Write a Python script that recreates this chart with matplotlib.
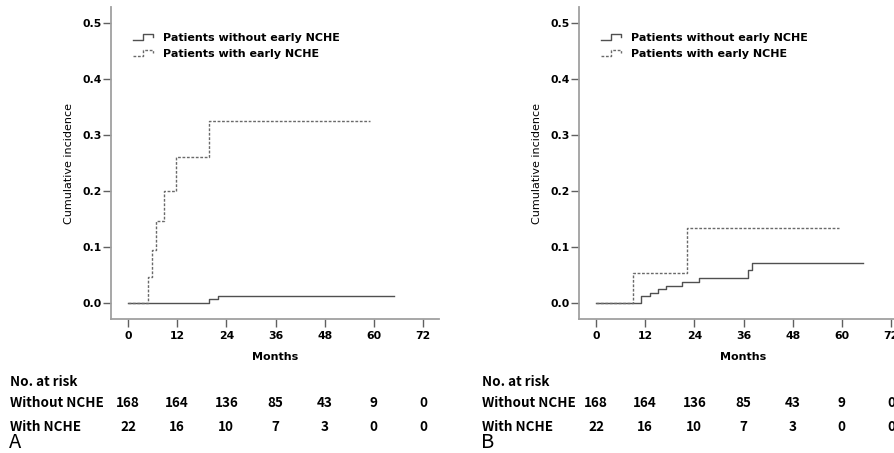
import matplotlib

matplotlib.use("Agg")
import matplotlib.pyplot as plt
from matplotlib.legend_handler import HandlerLine2D
from matplotlib.lines import Line2D
from matplotlib.transforms import blended_transform_factory

# risk table
month_ticks = [0, 12, 24, 36, 48, 60, 72]
risk_without = [168, 164, 136, 85, 43, 9, 0]
risk_with = [22, 16, 10, 7, 3, 0, 0]
row_labels = ["Without NCHE", "With NCHE"]
series_names = ["Patients without early NCHE", "Patients with early NCHE"]

# panel A curves (months, cumulative incidence)
a_without_t = [0, 19.8, 21.9, 65]
a_without_y = [0, 0.006, 0.013, 0.013]
a_with_t = [0, 5.0, 5.9, 6.8, 8.8, 11.7, 19.8, 59]
a_with_y = [0, 0.046, 0.095, 0.146, 0.200, 0.260, 0.326, 0.326]

# panel B curves
b_without_t = [0, 11.0, 13.1, 15.1, 17.0, 21.0, 25.1, 37.1, 38.1, 65.1]
b_without_y = [0, 0.012, 0.018, 0.024, 0.030, 0.037, 0.045, 0.058, 0.071, 0.071]
b_with_t = [0, 9.0, 22.1, 59.2]
b_with_y = [0, 0.054, 0.133, 0.133]

CHART_FONT = "DejaVu Sans"
TABLE_FONT = ["Noto Sans CJK KR", "DejaVu Sans"]
SOLID = "#505050"
DASH = "#6a6a6a"
DASH_STYLE = (0, (2.0, 1.2))


class StepHandler(HandlerLine2D):
    # small step-shaped legend key, like the SPSS output
    def create_artists(self, legend, orig_handle, xdescent, ydescent,
                       width, height, fontsize, trans):
        x0 = -xdescent
        y0 = -ydescent
        xs = [x0, x0 + 0.5 * width, x0 + 0.5 * width, x0 + width, x0 + width]
        ys = [y0 + 0.1 * height, y0 + 0.1 * height, y0 + 0.9 * height,
              y0 + 0.9 * height, y0 + 0.55 * height]
        line = Line2D(xs, ys)
        self.update_prop(line, orig_handle, legend)
        line.set_transform(trans)
        return [line]


def draw_panel(fig, rect, without_t, without_y, with_t, with_y, letter, table_x0):
    ax = fig.add_axes(rect)
    ax.step(without_t, without_y, where="post", color=SOLID, lw=1.0,
            label=series_names[0])
    ax.step(with_t, with_y, where="post", color=DASH, lw=1.0,
            linestyle=DASH_STYLE, label=series_names[1])

    ax.set_xlim(-4.15, 75.9)
    ax.set_ylim(-0.029, 0.529)
    ax.set_xticks(month_ticks)
    ax.set_yticks([0.0, 0.1, 0.2, 0.3, 0.4, 0.5])
    ax.set_yticklabels([f"{v:.1f}" for v in ax.get_yticks()])
    for s in ("top", "right"):
        ax.spines[s].set_visible(False)
    for s in ("left", "bottom"):
        ax.spines[s].set_color("#a0a0a0")
        ax.spines[s].set_linewidth(1.3)
    ax.tick_params(direction="out", length=5.5, width=1.0, color="#606060",
                   labelsize=7.8)
    ax.tick_params(axis="y", pad=1)
    ax.tick_params(axis="x", pad=3)
    for lab in ax.get_xticklabels() + ax.get_yticklabels():
        lab.set_fontfamily(CHART_FONT)
        lab.set_fontweight("bold")

    ax.set_xlabel("Months", fontfamily=CHART_FONT, fontweight="bold",
                  fontsize=8, labelpad=8)
    ax.set_ylabel("Cumulative incidence", fontfamily=CHART_FONT,
                  fontsize=8, labelpad=6.5)

    ax.legend(handler_map={Line2D: StepHandler()}, loc="upper left",
              bbox_to_anchor=(0.038, 0.949), frameon=False,
              handlelength=1.8, handletextpad=0.9, labelspacing=0.57,
              prop={"family": CHART_FONT, "weight": "bold", "size": 8})

    # number-at-risk table under the axis
    tr = blended_transform_factory(ax.transData, fig.transFigure)
    fig.text(table_x0, 1 - 382 / 453, "No. at risk", family=TABLE_FONT,
             fontweight="bold", fontsize=9.7, va="center", ha="left")
    for label, counts, yp in zip(row_labels, [risk_without, risk_with],
                                 [403, 427]):
        fig.text(table_x0, 1 - yp / 453, label, family=TABLE_FONT,
                 fontweight="bold", fontsize=9.7, va="center", ha="left")
        for m, n in zip(month_ticks, counts):
            ax.text(m, 1 - yp / 453, str(n), transform=tr, family=TABLE_FONT,
                    fontweight="bold", fontsize=9.7, va="center", ha="center",
                    clip_on=False)
    fig.text(table_x0 - 0.001, 1 - 443 / 453, letter, family=TABLE_FONT,
             fontsize=14.5, va="center", ha="left")
    return ax


fig = plt.figure(figsize=(8.94, 4.53), dpi=100)
axes_w = 328 / 894
axes_b = (453 - 319) / 453
axes_h = 312 / 453
draw_panel(fig, [111 / 894, axes_b, axes_w, axes_h],
           a_without_t, a_without_y, a_with_t, a_with_y, "A", 10 / 894)
draw_panel(fig, [579 / 894, axes_b, axes_w, axes_h],
           b_without_t, b_without_y, b_with_t, b_with_y, "B", 482 / 894)

fig.savefig("out.png", dpi=100)
